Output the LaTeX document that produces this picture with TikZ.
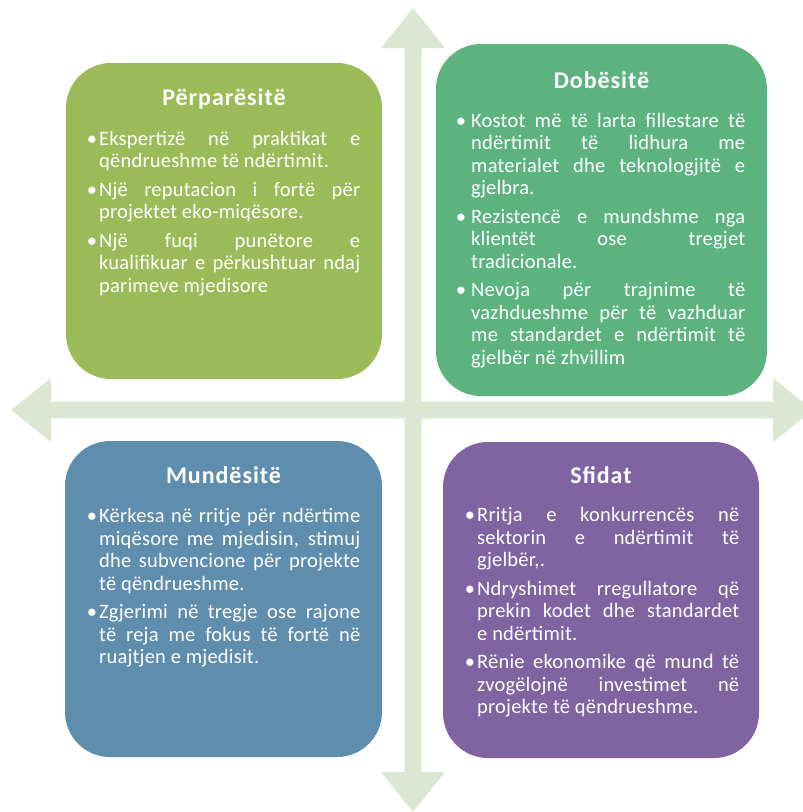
\documentclass[tikz,border=0pt]{standalone}
\usepackage{fontspec}
\setmainfont{Carlito}
\newfontfamily\bodyfont[LetterSpace=1]{Carlito}
\newfontfamily\titlefont[LetterSpace=4]{Carlito}
\usetikzlibrary{positioning}

\definecolor{perpGreen}{HTML}{9BBB59}
\definecolor{dobGreen}{HTML}{5CB37E}
\definecolor{mundBlue}{HTML}{5F8DAE}
\definecolor{sfidPurple}{HTML}{8064A2}
\definecolor{crossGray}{HTML}{DDE6D3}

\newlength{\itemhang}
\newlength{\bulletgap}
\newcommand{\BodySetup}{\lefthyphenmin=64\relax\hyphenpenalty=10000\relax
  \exhyphenpenalty=10000\relax\tolerance=9999\relax\setlength{\parskip}{5pt}%
  \setlength{\itemhang}{9pt}\setlength{\bulletgap}{2pt}}
\newcommand{\Item}[1]{\par\noindent
  \makebox[\itemhang][r]{\strut\textbullet\hspace{\bulletgap}}%
  \parbox[t]{\dimexpr\hsize-\itemhang\relax}{\lefthyphenmin=64\relax\tolerance=9999\relax\strut#1\strut}}

\begin{document}
\begin{tikzpicture}[x=1pt,y=-1pt]
  \useasboundingbox (0,0) rectangle (803,812);

  \tikzstyle{Box}=[rounded corners=45pt,inner sep=0pt,draw=none]
  \tikzstyle{Title}=[anchor=base,inner sep=0pt,text=white,font=\titlefont\fontsize{24}{28}\selectfont\bfseries]
  \tikzstyle{Body}=[anchor=north west,inner sep=0pt,text=white,align=justify,
    font=\bodyfont\fontsize{20.5}{22.5}\selectfont]

  % cross
  \fill[crossGray] (11,410) -- (51,378) -- (51,401.7) -- (773,401.7) -- (773,378)
    -- (813,410) -- (773,442) -- (773,418.3) -- (51,418.3) -- (51,442) -- cycle;
  \fill[crossGray] (413,8) -- (445,48) -- (421.7,48) -- (421.7,772) -- (445,772)
    -- (413,812) -- (381,772) -- (404.3,772) -- (404.3,48) -- (381,48) -- cycle;

  \node[Box,fill=perpGreen,minimum width=316,minimum height=316] (perp) at (224,221) {};
  \node[Box,fill=dobGreen,minimum width=331,minimum height=352] (dob) at (601.5,220) {};
  \node[Box,fill=mundBlue,minimum width=317,minimum height=316] (mund) at (223.5,599) {};
  \node[Box,fill=sfidPurple,minimum width=316,minimum height=316] (sfid) at (601,600) {};

  \node[Title] (perpTitle) at (224,105) {Përparësitë};
  \node[Title] (dobTitle) at (601.5,88) {Dobësitë};
  \node[Title] (mundTitle) at (223.5,483) {Mundësitë};
  \node[Title] (sfidTitle) at (601,483) {Sfidat};

  \node[Body,text width=270] (perpText) at (90,117.3) {\BodySetup
    \Item{Ekspertizë në praktikat e\linebreak qëndrueshme të ndërtimit.}
    \Item{Një reputacion i fortë për\linebreak projektet eko-miqësore.}
    \Item{Një fuqi punëtore e\linebreak kualifikuar e përkushtuar ndaj\linebreak parimeve mjedisore}};
  \node[Body,text width=286] (dobText) at (459,99.3) {\BodySetup
    \setlength{\itemhang}{12pt}\setlength{\bulletgap}{5pt}%
    \Item{Kostot më të larta fillestare të\linebreak ndërtimit të lidhura me\linebreak materialet dhe teknologjitë e\linebreak gjelbra.}
    \Item{Rezistencë e mundshme nga\linebreak klientët ose tregjet\linebreak tradicionale.}
    \Item{Nevoja për trajnime të\linebreak vazhdueshme për të vazhduar\linebreak me standardet e ndërtimit të\linebreak gjelbër në zhvillim}};
  \node[Body,text width=270] (mundText) at (90,495) {\BodySetup
    \Item{Kërkesa në rritje për ndërtime\linebreak miqësore me mjedisin, stimuj\linebreak dhe subvencione për projekte\linebreak të qëndrueshme.}
    \Item{Zgjerimi në tregje ose rajone\linebreak të reja me fokus të fortë në\linebreak ruajtjen e mjedisit.}};
  \node[Body,text width=271] (sfidText) at (468,494) {\BodySetup
    \Item{Rritja e konkurrencës në\linebreak sektorin e ndërtimit të\linebreak gjelbër,.}
    \Item{Ndryshimet rregullatore që\linebreak prekin kodet dhe standardet\linebreak e ndërtimit.}
    \Item{Rënie ekonomike që mund të\linebreak zvogëlojnë investimet në\linebreak projekte të qëndrueshme.}};
\end{tikzpicture}
\end{document}
